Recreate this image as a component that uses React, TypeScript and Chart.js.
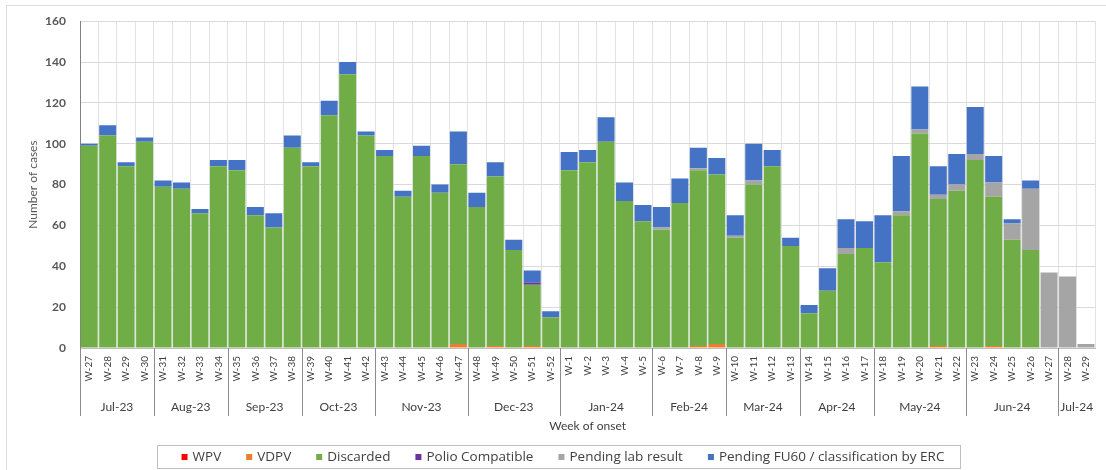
import React, { useEffect, useRef } from "react";
import { Chart, registerables } from "chart.js";

Chart.register(...registerables);

const weeks = [
  "W-27", "W-28", "W-29", "W-30", "W-31", "W-32", "W-33", "W-34", "W-35", "W-36",
  "W-37", "W-38", "W-39", "W-40", "W-41", "W-42", "W-43", "W-44", "W-45", "W-46",
  "W-47", "W-48", "W-49", "W-50", "W-51", "W-52", "W-1", "W-2", "W-3", "W-4",
  "W-5", "W-6", "W-7", "W-8", "W-9", "W-10", "W-11", "W-12", "W-13", "W-14",
  "W-15", "W-16", "W-17", "W-18", "W-19", "W-20", "W-21", "W-22", "W-23", "W-24",
  "W-25", "W-26", "W-27", "W-28", "W-29",
];

const months = [
  "Jul-23", "Aug-23", "Sep-23", "Oct-23", "Nov-23", "Dec-23", "Jan-24",
  "Feb-24", "Mar-24", "Apr-24", "May-24", "Jun-24", "Jul-24",
];
const monthWeekCounts = [4, 4, 4, 4, 5, 5, 5, 4, 4, 4, 5, 5, 2];

const wpv = [
  0, 0, 0, 0, 0, 0, 0, 0, 0, 0,
  0, 0, 0, 0, 0, 0, 0, 0, 0, 0,
  0, 0, 0, 0, 0, 0, 0, 0, 0, 0,
  0, 0, 0, 0, 0, 0, 0, 0, 0, 0,
  0, 0, 0, 0, 0, 0, 0, 0, 0, 0,
  0, 0, 0, 0, 0,
];

const vdpv = [
  0, 0, 0, 0, 0, 0, 0, 0, 0, 0,
  0, 0, 0, 0, 0, 0, 0, 0, 0, 0,
  2, 0, 1, 0, 1, 0, 0, 0, 0, 0,
  0, 0, 0, 1, 2, 0, 0, 0, 0, 0,
  0, 0, 0, 0, 0, 0, 1, 0, 0, 1,
  0, 0, 0, 0, 0,
];

const discarded = [
  99, 104, 89, 101, 79, 78, 66, 89, 87, 65,
  59, 98, 89, 114, 134, 104, 94, 74, 94, 76,
  88, 69, 83, 48, 30, 15, 87, 91, 101, 72,
  62, 58, 71, 86, 83, 54, 80, 89, 50, 17,
  28, 46, 49, 42, 65, 105, 72, 77, 92, 73,
  53, 48, 0, 0, 0,
];

const polioCompatible = [
  0, 0, 0, 0, 0, 0, 0, 0, 0, 0,
  0, 0, 0, 0, 0, 0, 0, 0, 0, 0,
  0, 0, 0, 0, 1, 0, 0, 0, 0, 0,
  0, 0, 0, 0, 0, 0, 0, 0, 0, 0,
  0, 0, 0, 0, 0, 0, 0, 0, 0, 0,
  0, 0, 0, 0, 0,
];

const pendingLab = [
  0, 0, 0, 0, 0, 0, 0, 0, 0, 0,
  0, 0, 0, 0, 0, 0, 0, 0, 0, 0,
  0, 0, 0, 0, 0, 0, 0, 0, 0, 0,
  0, 1, 0, 1, 0, 1, 2, 0, 0, 0,
  0, 3, 0, 0, 2, 2, 2, 3, 3, 7,
  8, 30, 37, 35, 2,
];

const pendingFU60 = [
  1, 5, 2, 2, 3, 3, 2, 3, 5, 4,
  7, 6, 2, 7, 6, 2, 3, 3, 5, 4,
  16, 7, 7, 5, 6, 3, 9, 6, 12, 9,
  8, 10, 12, 10, 8, 10, 18, 8, 4, 4,
  11, 14, 13, 23, 27, 21, 14, 15, 23, 13,
  2, 4, 0, 0, 0,
];

const FONT = "Lato, 'Open Sans', sans-serif";
const LEGEND_FONT = "'Open Sans', Lato, sans-serif";

const framePlugin = {
  id: "frame",
  beforeDraw(chart: any) {
    const ctx = chart.ctx;
    ctx.save();
    ctx.fillStyle = "#ffffff";
    ctx.fillRect(0, 0, chart.width, chart.height);
    ctx.strokeStyle = "#dedede";
    ctx.lineWidth = 1;
    ctx.strokeRect(6.5, 5.5, chart.width + 10, chart.height + 10);
    ctx.restore();
  },
};

const monthAxisPlugin = {
  id: "monthAxis",
  afterDraw(chart: any) {
    const x = chart.scales.x;
    const ctx = chart.ctx;
    const half = (x.getPixelForValue(1) - x.getPixelForValue(0)) / 2;
    const base = chart.chartArea.bottom;
    let idx = 0;
    ctx.save();
    ctx.strokeStyle = "#8c8c8c";
    ctx.lineWidth = 1;
    ctx.font = `12px ${FONT}`;
    ctx.fillStyle = "#404040";
    ctx.textAlign = "center";
    ctx.textBaseline = "middle";
    months.forEach((m, i) => {
      const n = monthWeekCounts[i];
      const left = x.getPixelForValue(idx) - half;
      const right = x.getPixelForValue(idx + n - 1) + half;
      const lx = Math.round(left) + 0.5;
      ctx.beginPath();
      ctx.moveTo(lx, base);
      ctx.lineTo(lx, base + 68);
      ctx.stroke();
      ctx.fillText(m, (left + right) / 2, base + 59);
      idx += n;
    });
    ctx.restore();
  },
};

const boxLegendPlugin = {
  id: "boxLegend",
  afterDraw(chart: any) {
    const ctx = chart.ctx;
    ctx.save();
    ctx.font = `13.5px ${LEGEND_FONT}`;
    const box = 6;
    const gapBoxText = 5;
    const gapItems = 25;
    const items = chart.data.datasets.map((d: any) => ({
      label: d.label as string,
      color: d.backgroundColor as string,
      w: ctx.measureText(d.label).width,
    }));
    const total =
      items.reduce((s: number, it: any) => s + box + gapBoxText + it.w, 0) +
      gapItems * (items.length - 1);
    const cx = chart.width / 2 + 10;
    const cy = chart.chartArea.bottom + 109;
    let xPos = cx - total / 2;
    ctx.strokeStyle = "#bfbfbf";
    ctx.lineWidth = 1;
    const bl = Math.round(xPos - 25) + 0.5;
    const br = Math.round(xPos + total + 16) + 0.5;
    ctx.strokeRect(bl, Math.round(cy - 12) + 0.5, br - bl, 23);
    ctx.textBaseline = "middle";
    ctx.textAlign = "left";
    items.forEach((it: any) => {
      ctx.fillStyle = it.color;
      ctx.fillRect(xPos, cy - box / 2, box, box);
      ctx.fillStyle = "#404040";
      ctx.fillText(it.label, xPos + box + gapBoxText, cy + 0.5);
      xPos += box + gapBoxText + it.w + gapItems;
    });
    ctx.restore();
  },
};

export default function App() {
  const canvasRef = useRef<HTMLCanvasElement | null>(null);

  useEffect(() => {
    if (!canvasRef.current) return;
    const mk = (label: string, data: number[], color: string) => ({
      label,
      data,
      backgroundColor: color,
      borderWidth: 0,
      barPercentage: 1,
      categoryPercentage: 0.92,
    });
    const chart = new Chart(canvasRef.current, {
      type: "bar",
      data: {
        labels: weeks,
        datasets: [
          mk("WPV", wpv, "#FF0000"),
          mk("VDPV", vdpv, "#ED7D31"),
          mk("Discarded", discarded, "#70AD47"),
          mk("Polio Compatible", polioCompatible, "#7030A0"),
          mk("Pending lab result", pendingLab, "#A5A5A5"),
          mk("Pending FU60 / classification by ERC", pendingFU60, "#4472C4"),
        ],
      },
      options: {
        animation: false,
        responsive: true,
        maintainAspectRatio: false,
        layout: { padding: { top: 18, right: 2, bottom: 32, left: 0 } },
        plugins: {
          legend: { display: false },
          tooltip: { enabled: false },
        },
        scales: {
          x: {
            stacked: true,
            grid: { display: true, color: "#e2e2e2", drawTicks: false, offset: true },
            border: { display: true, color: "#bfbfbf" },
            ticks: {
              autoSkip: false,
              minRotation: 90,
              maxRotation: 90,
              padding: 8,
              font: { family: FONT, size: 10 },
              color: "#404040",
            },
            title: {
              display: true,
              text: "Week of onset",
              font: { family: FONT, size: 12 },
              color: "#404040",
              padding: { top: 0, bottom: 5 },
            },
            afterFit: (s: any) => {
              s.height = 90;
            },
          },
          y: {
            stacked: true,
            min: 0,
            max: 160,
            ticks: {
              stepSize: 20,
              padding: 14,
              font: { family: FONT, size: 12, weight: "bold" },
              color: "#595959",
            },
            grid: { color: "#d9d9d9", drawTicks: false },
            border: { display: true, color: "#808080" },
            title: {
              display: true,
              text: "Number of cases",
              font: { family: FONT, size: 12 },
              color: "#595959",
              padding: { top: 26, bottom: 0 },
            },
            afterFit: (s: any) => {
              s.width = 80;
            },
          },
        },
      } as any,
      plugins: [framePlugin, monthAxisPlugin, boxLegendPlugin],
    });
    return () => chart.destroy();
  }, []);

  return (
    <div style={{ position: "fixed", left: 0, top: 0, width: 1106, height: 470, background: "#fff" }}>
      <canvas ref={canvasRef} />
    </div>
  );
}
